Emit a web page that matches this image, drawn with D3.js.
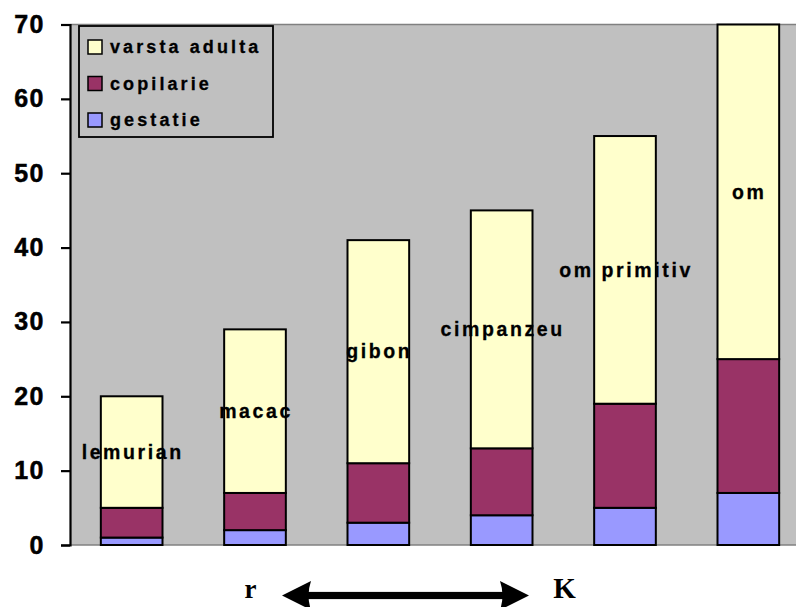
<!DOCTYPE html>
<html>
<head>
<meta charset="utf-8">
<script src="https://cdn.jsdelivr.net/npm/d3@7"></script>
<style>
  html, body { margin: 0; padding: 0; background: #fff; }
  svg { display: block; }
</style>
</head>
<body>
<svg id="chart" width="796" height="607"></svg>
<script>
const categories = ["lemurian", "macac", "gibon", "cimpanzeu", "om primitiv", "om"];
const gestatie = [1, 2, 3, 4, 5, 7];
const copilarie = [4, 5, 8, 9, 14, 18];
const varstaAdulta = [15, 22, 30, 32, 36, 45];
const seriesNames = ["gestatie", "copilarie", "varsta adulta"];
const legendOrder = ["varsta adulta", "copilarie", "gestatie"];
const yTicks = [0, 10, 20, 30, 40, 50, 60, 70];
const colors = { "gestatie": "#9999FF", "copilarie": "#993366", "varsta adulta": "#FFFFCC" };

(function () {
const svg = d3.select("#chart");
const pLeft = 70, pRight = 810, pTop = 24.5, pBottom = 545;

const x = d3.scaleBand().domain(categories).range([pLeft, pRight]).paddingInner(0.5).paddingOuter(0.25);
const y = d3.scaleLinear().domain([0, 70]).range([pBottom, pTop]);

const rows = categories.map((c, i) => ({
  cat: c,
  "gestatie": gestatie[i],
  "copilarie": copilarie[i],
  "varsta adulta": varstaAdulta[i]
}));
const stacked = d3.stack().keys(seriesNames)(rows);

// plot area
svg.append("rect").attr("x", pLeft).attr("y", pTop).attr("width", pRight - pLeft).attr("height", pBottom - pTop)
  .attr("fill", "#C0C0C0");
svg.append("line").attr("x1", pLeft).attr("x2", pRight).attr("y1", pTop).attr("y2", pTop)
  .attr("stroke", "#808080").attr("stroke-width", 1.5);
svg.append("line").attr("x1", pLeft).attr("x2", pRight).attr("y1", pBottom).attr("y2", pBottom)
  .attr("stroke", "#808080").attr("stroke-width", 1.5);

// bars
svg.append("g").selectAll("g").data(stacked).join("g")
  .attr("fill", d => colors[d.key])
  .selectAll("rect").data(d => d).join("rect")
  .attr("x", d => x(d.data.cat))
  .attr("width", x.bandwidth())
  .attr("y", d => y(d[1]))
  .attr("height", d => y(d[0]) - y(d[1]))
  .attr("stroke", "#000").attr("stroke-width", 2);

// y axis
const yAxis = svg.append("g").attr("transform", `translate(${pLeft},0)`)
  .call(d3.axisLeft(y).tickValues(yTicks).tickSize(9).tickPadding(16).tickFormat(d3.format("d")));
yAxis.select(".domain").attr("stroke", "#000").attr("stroke-width", 2.2);
yAxis.selectAll(".tick line").attr("stroke", "#000").attr("stroke-width", 2.2);
yAxis.selectAll(".tick text")
  .attr("font-family", "'Liberation Sans', Arial, sans-serif")
  .attr("font-weight", "bold").attr("font-size", 25)
  .attr("letter-spacing", "1.5px")
  .attr("fill", "#000").attr("stroke", "#000").attr("stroke-width", 0.5);

// data labels (category names in adult segment)
const adult = stacked[2];
svg.append("g").selectAll("text").data(adult).join("text")
  .attr("x", d => x(d.data.cat) + x.bandwidth() / 2 + 1)
  .attr("y", d => y((d[0] + d[1]) / 2))
  .attr("dy", "0.35em")
  .attr("text-anchor", "middle")
  .attr("font-family", "'Liberation Sans', Arial, sans-serif")
  .attr("font-weight", "bold").attr("font-size", 19.5)
  .attr("letter-spacing", "2.6px")
  .attr("fill", "#000").attr("stroke", "#000").attr("stroke-width", 0.3)
  .text(d => d.data.cat);

// legend
const lg = svg.append("g");
lg.append("rect").attr("x", 79).attr("y", 26).attr("width", 194).attr("height", 111)
  .attr("fill", "#C0C0C0").attr("stroke", "#000").attr("stroke-width", 1.8);
const li = lg.selectAll("g.item").data(legendOrder).join("g").attr("class", "item")
  .attr("transform", (d, i) => `translate(88,${47 + i * 36.5})`);
li.append("rect").attr("x", 0).attr("y", -7).attr("width", 14).attr("height", 14)
  .attr("fill", d => colors[d]).attr("stroke", "#000").attr("stroke-width", 1.5);
li.append("text").attr("x", 22).attr("y", 0).attr("dy", "0.35em")
  .attr("font-family", "'Liberation Sans', Arial, sans-serif")
  .attr("font-weight", "bold").attr("font-size", 18)
  .attr("letter-spacing", "3.1px")
  .attr("fill", "#000").attr("stroke", "#000").attr("stroke-width", 0.3)
  .text(d => d);

// r <-> K arrow annotation
const ay = 595.5, ax1 = 282, ax2 = 529, headL = 29, headH = 14.5;
const ann = svg.append("g");
ann.append("rect").attr("x", ax1 + headL - 4).attr("y", ay - 3.6).attr("width", (ax2 - headL) - (ax1 + headL) + 8).attr("height", 7.2)
  .attr("fill", "#000");
ann.append("path")
  .attr("d", `M${ax1},${ay} L${ax1 + headL},${ay - headH} Q${ax1 + headL - 5},${ay} ${ax1 + headL},${ay + headH} Z`)
  .attr("fill", "#000");
ann.append("path")
  .attr("d", `M${ax2},${ay} L${ax2 - headL},${ay - headH} Q${ax2 - headL + 5},${ay} ${ax2 - headL},${ay + headH} Z`)
  .attr("fill", "#000");
ann.append("text").attr("x", 250.5).attr("y", 598).attr("text-anchor", "middle")
  .attr("font-family", "'Liberation Serif', 'Times New Roman', serif")
  .attr("font-weight", "bold").attr("font-size", 27).attr("fill", "#000").text("r");
ann.append("text").attr("x", 564.5).attr("y", 597.5).attr("text-anchor", "middle")
  .attr("font-family", "'Liberation Serif', 'Times New Roman', serif")
  .attr("font-weight", "bold").attr("font-size", 29).attr("fill", "#000").text("K");
})();
</script>
</body>
</html>
